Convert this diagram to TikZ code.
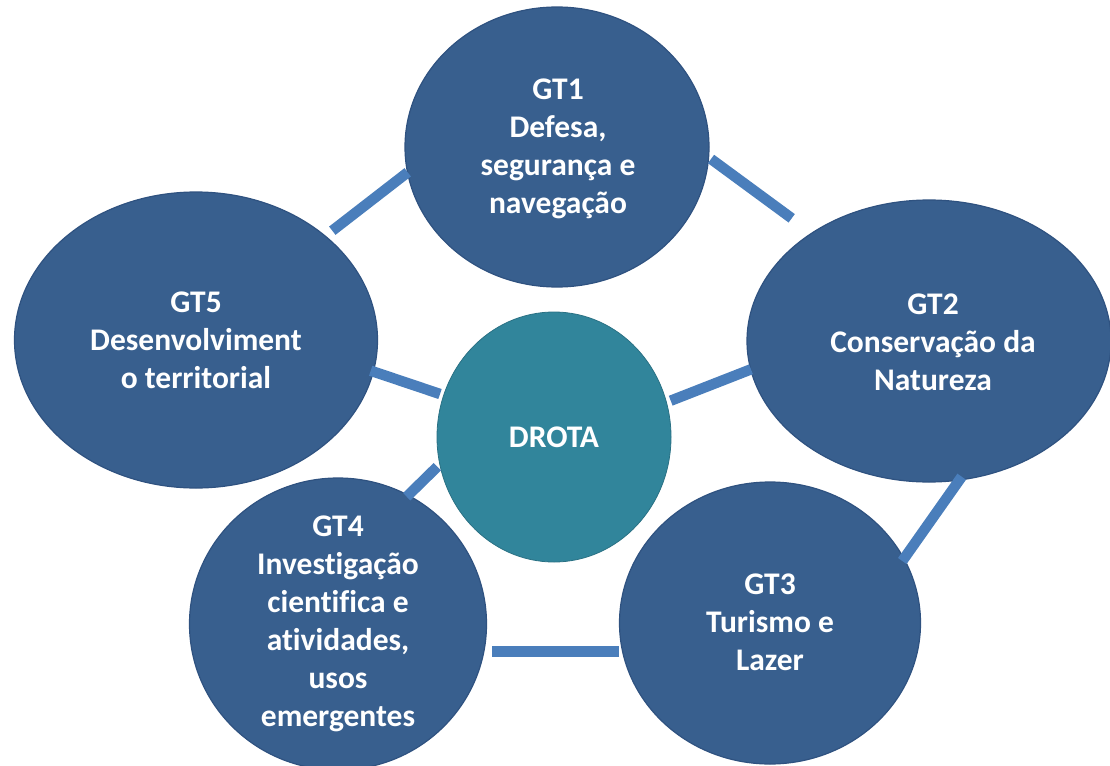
\documentclass[tikz,border=0pt]{standalone}
\usepackage{fontspec}
\setmainfont{Carlito}[Ligatures={NoCommon,NoContextual}]
\usetikzlibrary{shapes.geometric}
\definecolor{gtblue}{HTML}{385F8E}
\definecolor{gtedge}{HTML}{2F5280}
\definecolor{drotateal}{HTML}{31859B}
\definecolor{linkblue}{HTML}{4A7EBB}
\begin{document}
\begin{tikzpicture}[x=1pt,y=-1pt,
  gt/.style={ellipse, fill=gtblue, draw=gtedge, line width=1.2pt, inner sep=0pt},
  core/.style={ellipse, fill=drotateal, draw=drotateal!85!black, line width=0.8pt, inner sep=0pt},
  txt/.style={text=white, font=\fontsize{31.5}{38}\selectfont\bfseries, align=center, inner sep=0pt},
  link/.style={draw=linkblue, line width=10.5pt}]
\useasboundingbox (0,0) rectangle (1110,765);
% ellipses
\node[gt, minimum width=304pt, minimum height=280pt] (gt1) at (557,147) {};
\node[gt, minimum width=364pt, minimum height=282pt] (gt2) at (929,341) {};
\node[gt, minimum width=301pt, minimum height=282pt] (gt3) at (770,623) {};
\node[gt, minimum width=297pt, minimum height=292pt] (gt4) at (338,624) {};
\node[gt, minimum width=363pt, minimum height=296pt] (gt5) at (196,340) {};
\node[core, minimum width=234pt, minimum height=250pt] (drota) at (554,437) {};
% connector ends
\coordinate (a15) at (407.7,172.3); \coordinate (b15) at (332.3,230.7);
\coordinate (a12) at (711,159);     \coordinate (b12) at (791.7,218.3);
\coordinate (a23) at (961.7,476.7); \coordinate (b23) at (902.3,561);
\coordinate (a34) at (619,651.5);   \coordinate (b34) at (492,651.5);
\coordinate (a4d) at (406.7,496.7); \coordinate (b4d) at (437.3,466.7);
\coordinate (a5d) at (370.7,370.7); \coordinate (b5d) at (440,394);
\coordinate (a2d) at (751,369.3);   \coordinate (b2d) at (670.7,400.7);
\draw[link] (a15) -- (b15);
\draw[link] (a12) -- (b12);
\draw[link] (a23) -- (b23);
\draw[link] (a34) -- (b34);
\draw[link] (a4d) -- (b4d);
\draw[link] (a5d) -- (b5d);
\draw[link] (a2d) -- (b2d);
% texts
\node[txt] (t1) at (558,149) {GT1\\Defesa,\\segurança e\\navegação};
\node[txt] (t2) at (933,342) {GT2\\Conservação da\\Natureza};
\node[txt] (t3) at (770,622) {GT3\\Turismo e\\Lazer};
\node[txt] (t4) at (338,624) {GT4\\Investigação\\cientifica e\\atividades,\\usos\\emergentes};
\node[txt] (t5) at (196,340) {GT5\\Desenvolviment\\o territorial};
\node[txt] (td) at (554,437) {DROTA};
\end{tikzpicture}
\end{document}
